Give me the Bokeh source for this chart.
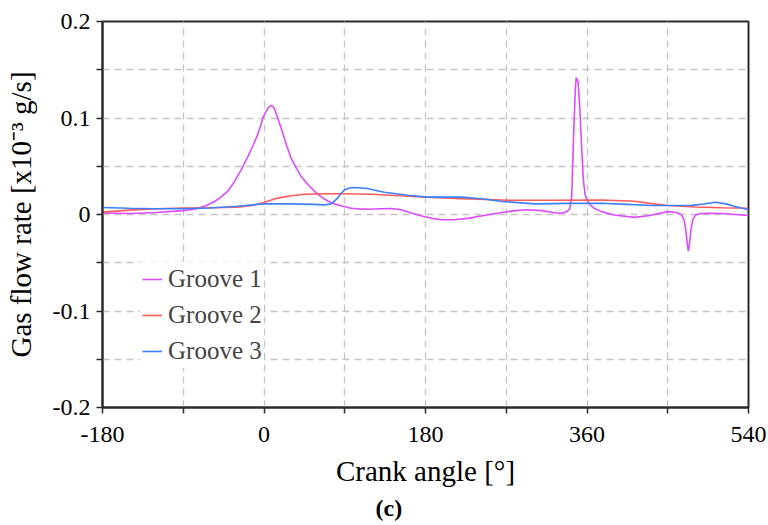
from bokeh.plotting import figure
from bokeh.models import FixedTicker, Range1d, Legend, LegendItem, Title
from bokeh.embed import file_html
from bokeh.resources import INLINE

# ---- data ----
g1_angle = [-180, -150, -120, -90, -75, -65, -55, -48, -40, -33, -25, -18, -12, -7, -3, -1,
            2, 5, 8, 11, 15, 20, 25, 30, 36, 41, 50, 57, 64, 71, 78, 88, 97, 106, 116, 130,
            142, 153, 164, 178, 190, 198, 212, 227, 245, 265, 280, 294, 310, 325, 333, 338,
            341, 343, 345, 347, 348, 350, 352, 354, 356, 358, 360, 364, 368, 376, 390, 413,
            430, 450, 460, 465, 468, 470, 472, 473, 474, 476, 478, 481, 487, 495, 510, 525, 540]
g1_rate = [0.0015, 0.001, 0.002, 0.004, 0.006, 0.009, 0.0135, 0.018, 0.0245, 0.034, 0.047, 0.060,
           0.072, 0.083, 0.094, 0.101, 0.106, 0.111, 0.113, 0.111, 0.101, 0.087, 0.072, 0.059,
           0.048, 0.040, 0.030, 0.0235, 0.018, 0.014, 0.011, 0.0085, 0.0065, 0.0058, 0.0055,
           0.006, 0.0062, 0.005, 0.0015, -0.002, -0.0045, -0.0055, -0.0055, -0.004, -0.001,
           0.002, 0.004, 0.0049, 0.004, 0.0015, 0.0015, 0.003, 0.0065, 0.02, 0.08, 0.13, 0.142,
           0.138, 0.11, 0.07, 0.035, 0.02, 0.015, 0.0095, 0.0065, 0.003, -0.0005, -0.003,
           -0.001, 0.003, 0.002, 0.0, -0.005, -0.015, -0.032, -0.038, -0.032, -0.015, -0.005,
           -0.0005, 0.001, 0.0013, 0.001, 0.0, -0.001]

g2_angle = [-180, -150, -120, -90, -60, -30, -15, 0, 15, 30, 45, 67, 89, 120, 150, 182, 220,
            272, 320, 376, 413, 430, 450, 480, 510, 540]
g2_rate = [0.0025, 0.0045, 0.006, 0.0068, 0.007, 0.0075, 0.009, 0.0125, 0.017, 0.0195, 0.021,
           0.0215, 0.0215, 0.021, 0.0195, 0.018, 0.0165, 0.0148, 0.0148, 0.015, 0.0138, 0.0115,
           0.0093, 0.0078, 0.007, 0.0065]

g3_angle = [-180, -150, -120, -90, -60, -30, 0, 30, 55, 67, 75, 82, 86, 90, 95, 101, 115, 134,
            160, 182, 220, 245, 265, 302, 340, 376, 405, 432, 460, 477, 490, 503, 515, 525, 540]
g3_rate = [0.0072, 0.0065, 0.006, 0.006, 0.0068, 0.0085, 0.011, 0.011, 0.0105, 0.010, 0.011,
           0.017, 0.022, 0.0256, 0.0275, 0.028, 0.027, 0.023, 0.02, 0.018, 0.018, 0.016, 0.0135,
           0.011, 0.0115, 0.0117, 0.0105, 0.0093, 0.0093, 0.0095, 0.0108, 0.0127, 0.011, 0.0083,
           0.005]

series_names = ["Groove 1", "Groove 2", "Groove 3"]
series_colors = ["#dc4cff", "#ff5b5b", "#3d80ff"]

x_ticks = [-180, 0, 180, 360, 540]
x_tick_labels = ["-180", "0", "180", "360", "540"]
x_minor = [-90, 90, 270, 450]
y_ticks = [-0.2, -0.1, 0, 0.1, 0.2]
y_tick_labels = ["-0.2", "-0.1", "0", "0.1", "0.2"]
y_minor = [-0.15, -0.05, 0.05, 0.15]

FONT = "Liberation Serif"

p = figure(width=768, height=525, x_range=Range1d(-180, 540), y_range=Range1d(-0.2, 0.2),
           output_backend="svg", toolbar_location=None,
           min_border_left=102, min_border_right=20, min_border_top=21, min_border_bottom=118)
p.background_fill_color = "white"
p.border_fill_color = "white"
p.outline_line_color = "#2a2a2a"
p.outline_line_width = 2

renderers = []
for xs, ys, c in [(g1_angle, g1_rate, series_colors[0]),
                  (g2_angle, g2_rate, series_colors[1]),
                  (g3_angle, g3_rate, series_colors[2])]:
    renderers.append(p.line(xs, ys, line_color=c, line_width=1.6))

# axes
p.xaxis.ticker = FixedTicker(ticks=x_ticks, minor_ticks=x_minor)
p.yaxis.ticker = FixedTicker(ticks=y_ticks, minor_ticks=y_minor)
p.xaxis.major_label_overrides = {t: s for t, s in zip(x_ticks, x_tick_labels)}
p.yaxis.major_label_overrides = {t: s for t, s in zip(y_ticks, y_tick_labels)}
for ax in (p.xaxis[0], p.yaxis[0]):
    ax.axis_line_color = "#2a2a2a"
    ax.axis_line_width = 2
    ax.major_tick_line_color = "#2a2a2a"
    ax.minor_tick_line_color = "#2a2a2a"
    ax.major_tick_line_width = 1.5
    ax.minor_tick_line_width = 1.5
    ax.major_tick_in = 0
    ax.major_tick_out = 6
    ax.minor_tick_in = 0
    ax.minor_tick_out = 6
    ax.major_label_text_font = FONT
    ax.major_label_text_font_size = "24px"
    ax.major_label_text_color = "black"
    ax.axis_label_text_font = FONT
    ax.axis_label_text_font_size = "29px"
    ax.axis_label_text_font_style = "normal"
    ax.axis_label_text_color = "black"

p.xaxis.axis_label = "Crank angle [°]"
p.yaxis.axis_label = "Gas flow rate [x10\u207b\u00b3 g/s]"
p.xaxis.major_label_standoff = 13
p.yaxis.major_label_standoff = 6
p.xaxis.axis_label_standoff = 10
p.yaxis.axis_label_standoff = 13

# grids
for g in (p.xgrid[0], p.ygrid[0]):
    g.grid_line_color = "#c4c4c4"
    g.grid_line_dash = "7 5"
    g.grid_line_width = 1.3
    g.minor_grid_line_color = "#c4c4c4"
    g.minor_grid_line_dash = "7 5"
    g.minor_grid_line_width = 1.3

# legend
items = [LegendItem(label=n, renderers=[r]) for n, r in zip(series_names, renderers)]
legend = Legend(items=items, location=(38, 39))
legend.label_text_font = FONT
legend.label_text_font_size = "25px"
legend.border_line_alpha = 0
legend.background_fill_color = "white"
legend.background_fill_alpha = 1
legend.padding = 2
legend.spacing = 6
legend.margin = 0
legend.label_height = 30
legend.glyph_height = 30
legend.glyph_width = 20
legend.label_standoff = 6
p.add_layout(legend)

# caption "(c)"
caption = Title(text="(c)", align="left", offset=273, text_font=FONT, text_font_size="24px",
                text_font_style="bold", text_color="black", standoff=6)
p.add_layout(caption, "below")

open("out.html", "w").write(file_html(p, INLINE))
